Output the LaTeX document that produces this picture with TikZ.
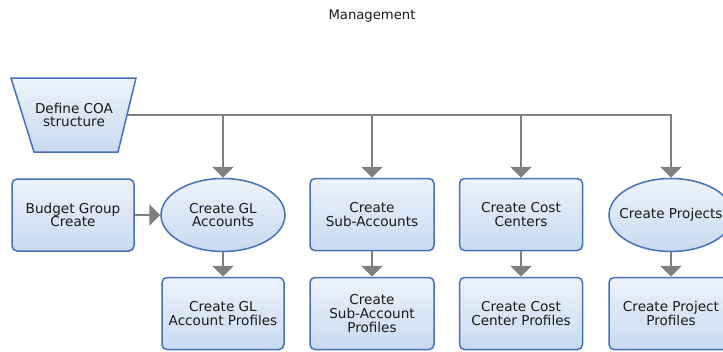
\documentclass[tikz,border=0pt]{standalone}
\usepackage{fontspec}
\setmainfont{DejaVu Sans}
\usetikzlibrary{shapes.geometric,arrows.meta}
\definecolor{bord}{HTML}{4470BC}
\definecolor{ftop}{HTML}{EDF3FB}
\definecolor{fbot}{HTML}{C8DAF0}
\definecolor{agray}{HTML}{7F7F7F}
\definecolor{txt}{HTML}{1A1A1A}
\tikzset{
  base/.style={draw=bord, line width=1.5pt, top color=ftop, bottom color=fbot,
    align=center, text=txt, inner sep=2pt, font=\fontsize{13.6}{13.6}\selectfont},
  procbox/.style={base, rectangle, rounded corners=5pt, minimum width=122pt, minimum height=72pt},
  ellbox/.style={base, ellipse, minimum width=124pt, minimum height=73pt},
  lbl/.style={align=center, text=txt, inner sep=0pt, font=\fontsize{13.6}{13.6}\selectfont},
  arr/.style={draw=agray, line width=2.8pt, -{Triangle[width=21pt,length=11pt]}},
}
\begin{document}
\begin{tikzpicture}[x=1pt,y=-1pt]
\useasboundingbox (0,0) rectangle (723,351);
\node[text=txt, font=\fontsize{13.2}{13.2}\selectfont] (title) at (372,16) {Management};
\path[base] (11,78) -- (136,78) -- (118,152) -- (34,152) -- cycle;
\node[lbl] (coa) at (74,115) {Define COA\\structure};
\coordinate (coaE) at (127,115);
\node[procbox] (budget) at (73,215) {Budget Group\\Create};
\node[ellbox] (gl) at (223,215) {Create GL\\Accounts};
\node[procbox] (glp) at (223,313.5) {Create GL\\Account Profiles};
\node[procbox, minimum width=124pt] (sub) at (372,214.5) {Create\\Sub-Accounts};
\node[procbox, minimum width=124pt] (subp) at (372,313.5) {Create\\Sub-Account\\Profiles};
\node[procbox, minimum width=123pt] (cc) at (521,214.5) {Create Cost\\Centers};
\node[procbox, minimum width=123pt] (ccp) at (521,313.5) {Create Cost\\Center Profiles};
\node[ellbox] (proj) at (671,215) {};
\node[lbl] (projtxt) at (proj.center) {Create Projects};
\node[procbox, minimum width=124pt] (projp) at (671,313.5) {Create Project\\Profiles};
\coordinate (j1) at (223,115);
\coordinate (j2) at (372,115);
\coordinate (j3) at (521,115);
\draw[arr] (coaE) -| (proj.north);
\draw[arr] (j1) -- (gl.north);
\draw[arr] (j2) -- (sub.north);
\draw[arr] (j3) -- (cc.north);
\draw[arr] (budget.east) -- (gl.west);
\draw[arr] (gl.south) -- (glp.north);
\draw[arr] (sub.south) -- (subp.north);
\draw[arr] (cc.south) -- (ccp.north);
\draw[arr] (proj.south) -- (projp.north);
\end{tikzpicture}
\end{document}
